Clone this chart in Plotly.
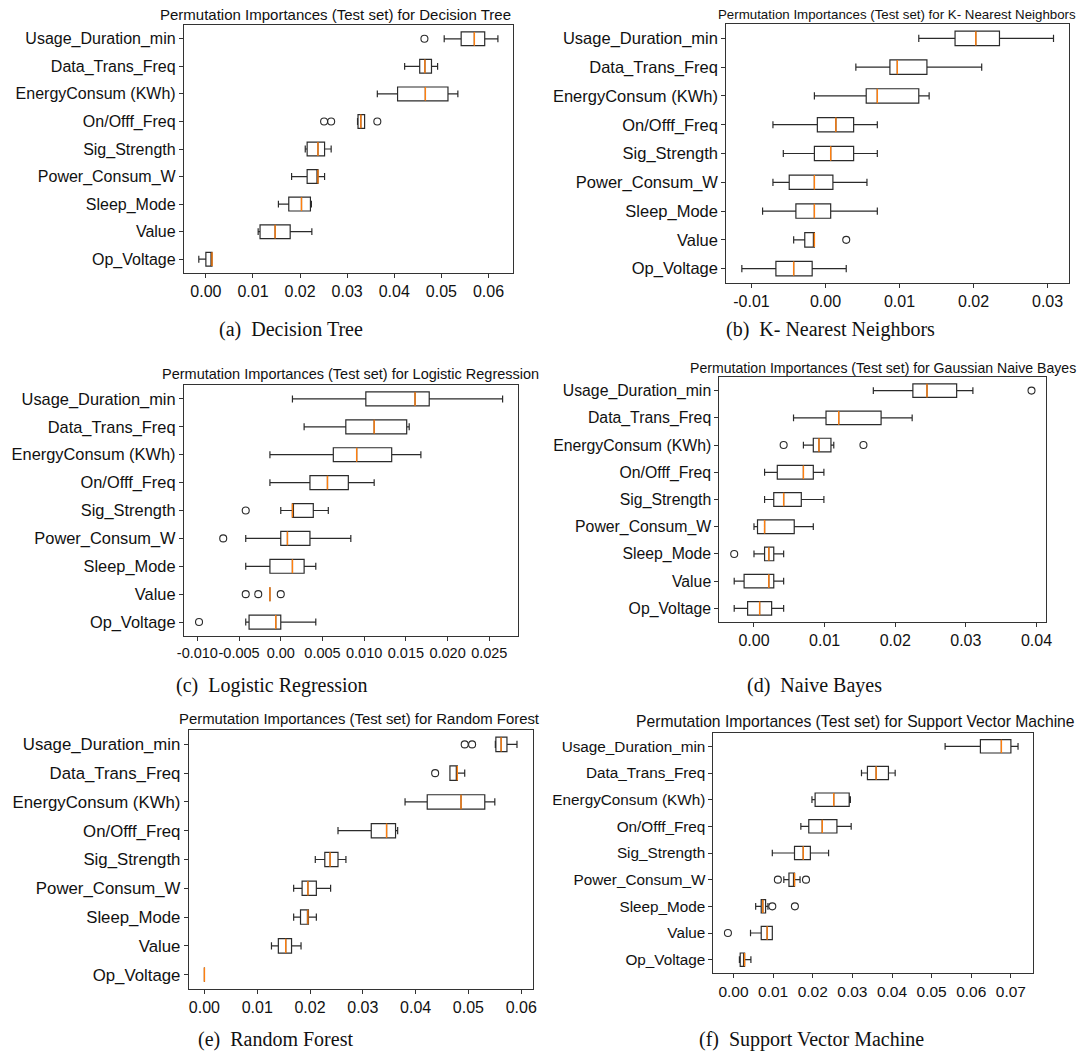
import plotly.graph_objects as go

W, H = 1083, 1053

features = ["Usage_Duration_min", "Data_Trans_Freq", "EnergyConsum (KWh)", "On/Offf_Freq",
            "Sig_Strength", "Power_Consum_W", "Sleep_Mode", "Value", "Op_Voltage"]

# each row: [lower whisker, Q1, median, Q3, upper whisker]  (features top -> bottom)
dt_stats = [[0.0506, 0.0542, 0.0570, 0.0592, 0.0620],
            [0.0422, 0.0454, 0.0465, 0.0479, 0.0492],
            [0.0364, 0.0407, 0.0466, 0.0514, 0.0535],
            [0.0322, 0.0323, 0.0329, 0.0337, 0.0337],
            [0.0211, 0.0215, 0.0238, 0.0252, 0.0266],
            [0.0182, 0.0215, 0.0238, 0.0238, 0.0252],
            [0.0154, 0.0176, 0.0203, 0.0222, 0.0224],
            [0.0111, 0.0115, 0.0147, 0.0179, 0.0225],
            [-0.0015, 0.0000, 0.0013, 0.0013, 0.0013]]
dt_out_idx = [0, 3, 3, 3]
dt_out_val = [0.0464, 0.0251, 0.0266, 0.0364]

knn_stats = [[0.0126, 0.0175, 0.0203, 0.0235, 0.0308],
             [0.0041, 0.0087, 0.0097, 0.0137, 0.0211],
             [-0.0015, 0.0055, 0.0070, 0.0126, 0.0140],
             [-0.0071, -0.0011, 0.0014, 0.0038, 0.0070],
             [-0.0057, -0.0015, 0.0007, 0.0038, 0.0070],
             [-0.0071, -0.0049, -0.0015, 0.0010, 0.0056],
             [-0.0085, -0.0040, -0.0015, 0.0007, 0.0070],
             [-0.0043, -0.0028, -0.0015, -0.0015, -0.0015],
             [-0.0113, -0.0067, -0.0043, -0.0018, 0.0028]]
knn_out_idx = [7]
knn_out_val = [0.0028]

lr_stats = [[0.0014, 0.0102, 0.0161, 0.0178, 0.0266],
            [0.0028, 0.0078, 0.0112, 0.0151, 0.0154],
            [-0.0013, 0.0063, 0.0091, 0.0133, 0.0168],
            [-0.0013, 0.0035, 0.0056, 0.0081, 0.0112],
            [0.0000, 0.0014, 0.0014, 0.0039, 0.0057],
            [-0.0042, 0.0000, 0.0008, 0.0035, 0.0084],
            [-0.0042, -0.0013, 0.0014, 0.0028, 0.0042],
            [-0.0013, -0.0013, -0.0013, -0.0013, -0.0013],
            [-0.0042, -0.0038, -0.0006, 0.0000, 0.0042]]
lr_out_idx = [4, 5, 7, 7, 7, 8]
lr_out_val = [-0.0042, -0.0069, -0.0042, -0.0027, 0.0000, -0.0098]

nb_stats = [[0.0169, 0.0225, 0.0245, 0.0287, 0.0310],
            [0.0056, 0.0102, 0.0120, 0.0180, 0.0224],
            [0.0070, 0.0084, 0.0092, 0.0109, 0.0113],
            [0.0015, 0.0033, 0.0070, 0.0084, 0.0099],
            [0.0015, 0.0028, 0.0042, 0.0067, 0.0099],
            [0.0000, 0.0005, 0.0015, 0.0057, 0.0084],
            [0.0000, 0.0015, 0.0021, 0.0028, 0.0042],
            [-0.0028, -0.0014, 0.0021, 0.0028, 0.0042],
            [-0.0028, -0.0009, 0.0008, 0.0025, 0.0042]]
nb_out_idx = [0, 2, 2, 6]
nb_out_val = [0.0393, 0.0042, 0.0155, -0.0028]

rf_stats = [[0.0551, 0.0552, 0.0562, 0.0573, 0.0592],
            [0.0465, 0.0465, 0.0479, 0.0479, 0.0493],
            [0.0380, 0.0422, 0.0486, 0.0531, 0.0550],
            [0.0253, 0.0316, 0.0345, 0.0362, 0.0366],
            [0.0210, 0.0228, 0.0238, 0.0253, 0.0268],
            [0.0169, 0.0185, 0.0196, 0.0212, 0.0239],
            [0.0169, 0.0182, 0.0196, 0.0197, 0.0212],
            [0.0127, 0.0140, 0.0154, 0.0165, 0.0183],
            [0.0000, 0.0000, 0.0000, 0.0000, 0.0000]]
rf_out_idx = [0, 0, 1]
rf_out_val = [0.0493, 0.0507, 0.0437]

svm_stats = [[0.0534, 0.0623, 0.0676, 0.0700, 0.0718],
             [0.0323, 0.0338, 0.0360, 0.0391, 0.0408],
             [0.0198, 0.0206, 0.0253, 0.0292, 0.0295],
             [0.0170, 0.0190, 0.0224, 0.0261, 0.0297],
             [0.0098, 0.0154, 0.0176, 0.0194, 0.0240],
             [0.0127, 0.0140, 0.0154, 0.0154, 0.0168],
             [0.0056, 0.0070, 0.0074, 0.0081, 0.0087],
             [0.0043, 0.0070, 0.0085, 0.0098, 0.0098],
             [0.0015, 0.0017, 0.0028, 0.0028, 0.0044]]
svm_out_idx = [5, 5, 6, 6, 7]
svm_out_val = [0.0112, 0.0183, 0.0098, 0.0155, -0.0014]

ticks_a = [0.0, 0.01, 0.02, 0.03, 0.04, 0.05, 0.06]
labels_a = ["0.00", "0.01", "0.02", "0.03", "0.04", "0.05", "0.06"]
ticks_b = [-0.01, 0.0, 0.01, 0.02, 0.03]
labels_b = ["-0.01", "0.00", "0.01", "0.02", "0.03"]
ticks_c = [-0.010, -0.005, 0.0, 0.005, 0.010, 0.015, 0.020, 0.025]
labels_c = ["-0.010", "-0.005", "0.00", "0.005", "0.010", "0.015", "0.020", "0.025"]
ticks_d = [0.0, 0.01, 0.02, 0.03, 0.04]
labels_d = ["0.00", "0.01", "0.02", "0.03", "0.04"]
ticks_e = [0.0, 0.01, 0.02, 0.03, 0.04, 0.05, 0.06]
labels_e = ["0.00", "0.01", "0.02", "0.03", "0.04", "0.05", "0.06"]
ticks_f = [0.0, 0.01, 0.02, 0.03, 0.04, 0.05, 0.06, 0.07]
labels_f = ["0.00", "0.01", "0.02", "0.03", "0.04", "0.05", "0.06", "0.07"]

titles = ["Permutation Importances (Test set) for Decision Tree",
          "Permutation Importances (Test set) for K- Nearest Neighbors",
          "Permutation Importances (Test set) for Logistic Regression",
          "Permutation Importances (Test set) for Gaussian Naive Bayes",
          "Permutation Importances (Test set) for Random Forest",
          "Permutation Importances (Test set) for Support Vector Machine"]
captions = ["(a)  Decision Tree", "(b)  K- Nearest Neighbors", "(c)  Logistic Regression",
            "(d)  Naive Bayes", "(e)  Random Forest", "(f)  Support Vector Machine"]

# ---- layout (pixels) ----
panels = [
    dict(stats=dt_stats, oi=dt_out_idx, ov=dt_out_val, tv=ticks_a, tt=labels_a,
         box=(179, 25, 512, 273), title=(332, 15, 15), cap=(287, 330), yfs=16, xfs=16),
    dict(stats=knn_stats, oi=knn_out_idx, ov=knn_out_val, tv=ticks_b, tt=labels_b,
         box=(728, 24, 1075, 283), title=(901, 15, 13.3), cap=(834, 330), yfs=16.5, xfs=16),
    dict(stats=lr_stats, oi=lr_out_idx, ov=lr_out_val, tv=ticks_c, tt=labels_c,
         box=(179, 385, 517, 636), title=(348, 374, 14.5), cap=(268, 685), yfs=16.4, xfs=14.5),
    dict(stats=nb_stats, oi=nb_out_idx, ov=nb_out_val, tv=ticks_d, tt=labels_d,
         box=(721, 377, 1052, 622), title=(887, 368, 14.1), cap=(817, 685), yfs=15.8, xfs=16),
    dict(stats=rf_stats, oi=rf_out_idx, ov=rf_out_val, tv=ticks_e, tt=labels_e,
         box=(184, 730, 532, 989), title=(357, 719, 14.9), cap=(272, 1039), yfs=16.8, xfs=16),
    dict(stats=svm_stats, oi=svm_out_idx, ov=svm_out_val, tv=ticks_f, tt=labels_f,
         box=(715, 733, 1038, 973), title=(859, 722, 15.7), cap=(814, 1039), yfs=15.3, xfs=15.5),
]

BOX_LINE = "#2b2b2b"
MEDIAN = "#ff7f0e"
SANS = "Liberation Sans, Arial, sans-serif"
SERIF = "Liberation Serif, Times New Roman, serif"

fig = go.Figure()
n = len(features)
positions = [n - i for i in range(n)]
annotations = []

for k, p in enumerate(panels, start=1):
    xa = "x" if k == 1 else f"x{k}"
    ya = "y" if k == 1 else f"y{k}"
    st = p["stats"]
    fig.add_trace(go.Box(
        y=positions, orientation="h",
        lowerfence=[r[0] for r in st], q1=[r[1] for r in st], median=[r[2] for r in st],
        q3=[r[3] for r in st], upperfence=[r[4] for r in st],
        width=0.5, whiskerwidth=0.5, boxpoints=False,
        fillcolor="rgba(255,255,255,0)", line=dict(color=BOX_LINE, width=1.2),
        xaxis=xa, yaxis=ya, showlegend=False, hoverinfo="skip"))
    mx, my = [], []
    for pos, r in zip(positions, st):
        mx += [r[2], r[2], None]
        my += [pos - 0.25, pos + 0.25, None]
    fig.add_trace(go.Scatter(x=mx, y=my, mode="lines", line=dict(color=MEDIAN, width=1.4),
                             xaxis=xa, yaxis=ya, showlegend=False, hoverinfo="skip"))
    fig.add_trace(go.Scatter(x=p["ov"], y=[positions[i] for i in p["oi"]], mode="markers",
                             marker=dict(symbol="circle-open", size=7,
                                         line=dict(color=BOX_LINE, width=1.1), color=BOX_LINE),
                             xaxis=xa, yaxis=ya, showlegend=False, hoverinfo="skip"))

    allv = [v for r in st for v in r] + list(p["ov"])
    lo, hi = min(allv), max(allv)
    pad = 0.05 * (hi - lo)
    x0, y0, x1, y1 = p["box"]
    axis_common = dict(showline=True, mirror=True, linecolor="#333", linewidth=1,
                       ticks="outside", ticklen=4, tickcolor="#333", showgrid=False,
                       zeroline=False, tickangle=0)
    fig.layout[f"xaxis{'' if k == 1 else k}"] = dict(
        domain=[x0 / W, x1 / W], anchor=ya, range=[lo - pad, hi + pad],
        tickmode="array", tickvals=p["tv"], ticktext=p["tt"],
        tickfont=dict(family=SANS, size=p["xfs"], color="#111"), **axis_common)
    fig.layout[f"yaxis{'' if k == 1 else k}"] = dict(
        domain=[1 - y1 / H, 1 - y0 / H], anchor=xa, range=[0.5, n + 0.5],
        tickmode="array", tickvals=positions, ticktext=features,
        tickfont=dict(family=SANS, size=p["yfs"], color="#111"), **axis_common)

    tx, ty, tfs = p["title"]
    annotations.append(dict(text=titles[k - 1], x=tx / W, y=1 - ty / H, xref="paper", yref="paper",
                            xanchor="center", yanchor="middle", showarrow=False,
                            font=dict(family=SANS, size=tfs, color="#111")))
    cx, cy = p["cap"]
    annotations.append(dict(text=captions[k - 1], x=cx / W, y=1 - cy / H, xref="paper", yref="paper",
                            xanchor="center", yanchor="middle", showarrow=False,
                            font=dict(family=SERIF, size=20, color="#111")))

fig.update_layout(width=W, height=H, autosize=False, margin=dict(l=0, r=0, t=0, b=0),
                  paper_bgcolor="white", plot_bgcolor="white", annotations=annotations,
                  showlegend=False)

fig.write_html("out.html", config={"displayModeBar": False},
               post_script="document.body.style.margin='0';document.body.style.overflow='hidden';")
